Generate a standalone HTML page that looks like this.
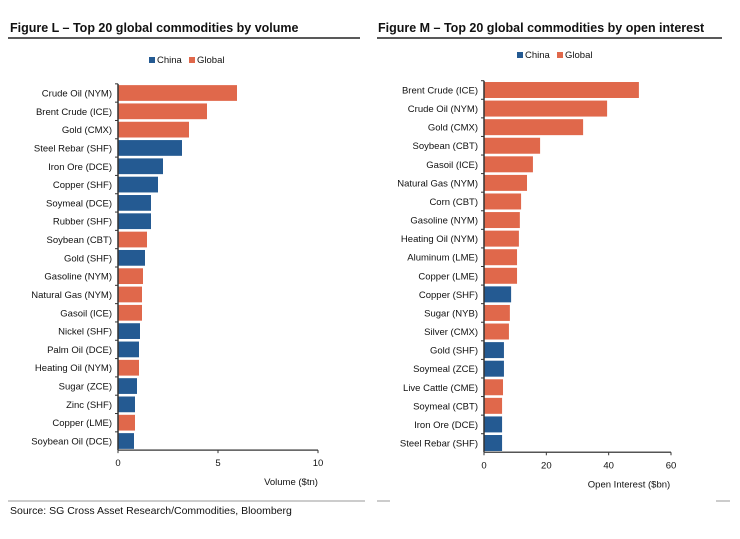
<!DOCTYPE html>
<html><head><meta charset="utf-8"><style>
body{margin:0;background:#fff;width:740px;height:534px;overflow:hidden;font-family:"Liberation Sans",Arial,sans-serif}
svg text{font-family:"Liberation Sans",Arial,sans-serif}
</style></head><body>
<svg id="svg" width="740" height="534" xmlns="http://www.w3.org/2000/svg">
<text x="10" y="32" font-size="12.5" font-weight="bold" fill="#111">Figure L – Top 20 global commodities by volume</text>
<line x1="8" y1="38" x2="360" y2="38" stroke="#222" stroke-width="1.5"/>
<text x="378" y="32" font-size="12.5" font-weight="bold" fill="#111">Figure M – Top 20 global commodities by open interest</text>
<line x1="377" y1="38" x2="722" y2="38" stroke="#222" stroke-width="1.5"/>
<line x1="8" y1="501" x2="365" y2="501" stroke="#999" stroke-width="1"/>
<line x1="377" y1="501" x2="390" y2="501" stroke="#999" stroke-width="1"/>
<line x1="716" y1="501" x2="730" y2="501" stroke="#999" stroke-width="1"/>
<text x="10" y="514" font-size="10.5" fill="#111">Source: SG Cross Asset Research/Commodities, Bloomberg</text>
<g id="left"></g>
<g id="right"></g>
</svg>
<script>
const BLUE="#245a92",ORANGE="#e0684b";
const volCats=["Crude Oil (NYM)","Brent Crude (ICE)","Gold (CMX)","Steel Rebar (SHF)","Iron Ore (DCE)","Copper (SHF)","Soymeal (DCE)","Rubber (SHF)","Soybean (CBT)","Gold (SHF)","Gasoline (NYM)","Natural Gas (NYM)","Gasoil (ICE)","Nickel (SHF)","Palm Oil (DCE)","Heating Oil (NYM)","Sugar (ZCE)","Zinc (SHF)","Copper (LME)","Soybean Oil (DCE)"];
const volValues=[5.95,4.45,3.55,3.2,2.25,2.0,1.65,1.65,1.45,1.35,1.25,1.2,1.2,1.1,1.05,1.05,0.95,0.85,0.85,0.8];
const volChina=[0,0,0,1,1,1,1,1,0,1,0,0,0,1,1,0,1,1,0,1];
const volTicks=[0,5,10];
const oiCats=["Brent Crude (ICE)","Crude Oil (NYM)","Gold (CMX)","Soybean (CBT)","Gasoil (ICE)","Natural Gas (NYM)","Corn (CBT)","Gasoline (NYM)","Heating Oil (NYM)","Aluminum (LME)","Copper (LME)","Copper (SHF)","Sugar (NYB)","Silver (CMX)","Gold (SHF)","Soymeal (ZCE)","Live Cattle (CME)","Soymeal (CBT)","Iron Ore (DCE)","Steel Rebar (SHF)"];
const oiValues=[49.7,39.5,31.8,18,15.7,13.8,11.9,11.5,11.2,10.6,10.6,8.7,8.3,8,6.4,6.4,6.1,5.8,5.8,5.8];
const oiChina=[0,0,0,0,0,0,0,0,0,0,0,1,0,0,1,1,0,0,1,1];
const oiTicks=[0,20,40,60];
const NS="http://www.w3.org/2000/svg";
function mk(p,t,a,txt){const e=document.createElementNS(NS,t);for(const k in a)e.setAttribute(k,a[k]);if(txt!==undefined)e.textContent=txt;p.appendChild(e);return e;}
function chart(g,cfg){
 const x=v=>cfg.x0+(v-cfg.min)/(cfg.max-cfg.min)*(cfg.x1-cfg.x0);
 const n=cfg.cats.length,step=(cfg.yLast-cfg.yFirst)/(n-1);
 const y=i=>cfg.yFirst+i*step;
 const bh=step*0.86;
 let lg=mk(g,"g",{});
 
 
 const r1=mk(lg,"rect",{x:cfg.lx,y:cfg.ly-6,width:6,height:6,fill:BLUE});
 
 
 const t1=mk(lg,"text",{x:cfg.lx+8,y:cfg.ly,"font-size":9.5,fill:"#111"},"China");
 
 
 const r2=mk(lg,"rect",{x:cfg.lx+40,y:cfg.ly-6,width:6,height:6,fill:ORANGE});
 
 
 const t2=mk(lg,"text",{x:cfg.lx+48,y:cfg.ly,"font-size":9.5,fill:"#111"},"Global");
 
 
 cfg.cats.forEach((c,i)=>{
  const b=mk(g,"rect",{x:x(0),y:y(i)-bh/2,width:x(cfg.vals[i])-x(0),height:bh,fill:cfg.china[i]?BLUE:ORANGE});
  
  
  const t=mk(g,"text",{x:x(0)-6,y:y(i)+3.5,"font-size":9.5,"text-anchor":"end",fill:"#111"},c);
  
  
  const tk=mk(g,"line",{x1:x(0)-3,x2:x(0),y1:y(i)-step/2,y2:y(i)-step/2,stroke:"#333"});
  
  
 });
 const axB=cfg.yLast+step/2;
 const ya=mk(g,"line",{x1:x(0),x2:x(0),y1:cfg.yFirst-step/2,y2:axB,stroke:"#333","stroke-width":1.5});
 
 
 const xa=mk(g,"line",{x1:x(0),x2:x(cfg.max),y1:axB,y2:axB,stroke:"#555","stroke-width":1.5});
 
 
 cfg.ticks.forEach(v=>{
  const l=mk(g,"line",{x1:x(v),x2:x(v),y1:axB,y2:axB+3,stroke:"#333"});
  
  
  const t=mk(g,"text",{x:x(v),y:axB+16,"font-size":9.5,"text-anchor":"middle",fill:"#111"},String(v));
  
  
 });
 const at=mk(g,"text",{x:cfg.tx,y:axB+35,"font-size":9.5,"text-anchor":"middle",fill:"#111"},cfg.title);
 
 
}
chart(document.getElementById('left'),{cats:volCats,vals:volValues,china:volChina,ticks:volTicks,min:0,max:10,x0:118,x1:318,yFirst:93,yLast:441,lx:149,ly:63,tx:291,title:"Volume ($tn)"});
chart(document.getElementById('right'),{cats:oiCats,vals:oiValues,china:oiChina,ticks:oiTicks,min:0,max:60,x0:484,x1:671,yFirst:90,yLast:443,lx:517,ly:58,tx:629,title:"Open Interest ($bn)"});
</script>
</body></html>
